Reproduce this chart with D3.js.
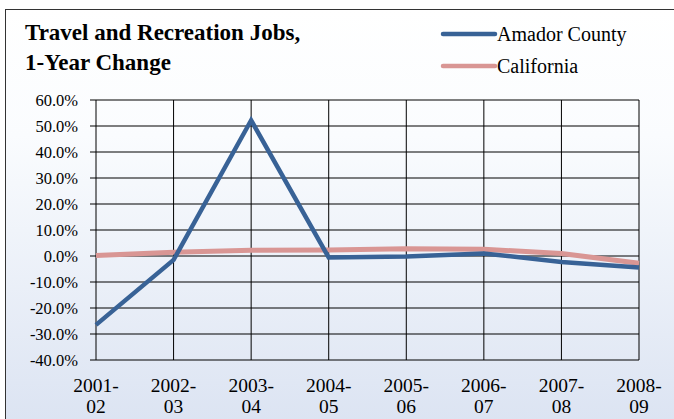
<!DOCTYPE html>
<html><head><meta charset="utf-8">
<script src="https://cdn.jsdelivr.net/npm/d3@7"></script>
</head>
<body style="margin:0">
<svg id="chart" width="674" height="419"></svg>
<script>
const categories = ["2001-02","2002-03","2003-04","2004-05","2005-06","2006-07","2007-08","2008-09"];
const amador = [-26.5, -1.5, 52.2, -0.6, -0.2, 1.0, -2.3, -4.4];
const california = [0.2, 1.4, 2.2, 2.3, 2.8, 2.6, 1.0, -2.8];
const yTicks = [60, 50, 40, 30, 20, 10, 0, -10, -20, -30, -40];
const seriesNames = ["Amador County", "California"];
const seriesColors = ["#386296", "#d99694"];
const titleLines = ["Travel and Recreation Jobs,", "1-Year Change"];

const FONT = "'Liberation Serif', Tinos, 'Times New Roman', serif";
function serif(sel){ return sel.attr("font-family", FONT).style("font-family", FONT, "important"); }

const svg = d3.select("#chart");
serif(svg);
const defs = svg.append("defs");
const grad = defs.append("linearGradient").attr("id","bg").attr("x1",0).attr("y1",0).attr("x2",0).attr("y2",1);
grad.append("stop").attr("offset","0%").attr("stop-color","#ffffff");
grad.append("stop").attr("offset","30%").attr("stop-color","#fafcfe");
grad.append("stop").attr("offset","100%").attr("stop-color","#dbe3f2");

svg.append("rect").attr("x",5.5).attr("y",9.5).attr("width",700).attr("height",420)
  .attr("fill","url(#bg)").attr("stroke","#333").attr("stroke-width",1);

const x = d3.scalePoint().domain(categories).range([96, 639]);
const y = d3.scaleLinear().domain([-40, 60]).range([360, 100]);

// title
const title = serif(svg.append("text").attr("x",25).attr("y",40).attr("font-size",23))
  .attr("font-weight","bold");
titleLines.forEach((t,i)=> serif(title.append("tspan").attr("x",25).attr("y",40+i*30)).text(t));

// legend
seriesNames.forEach((n,i)=>{
  const ly = 34 + i*32;
  svg.append("line").attr("x1",443).attr("x2",495).attr("y1",ly).attr("y2",ly)
    .attr("stroke",seriesColors[i]).attr("stroke-width",4.5).attr("stroke-linecap","round");
  serif(svg.append("text").attr("x",497).attr("y",ly+7).attr("font-size",20)).text(n);
});

// horizontal gridlines
svg.selectAll("line.h").data(yTicks).join("line").attr("class","h")
  .attr("x1",90).attr("x2",639).attr("y1",d=>y(d)).attr("y2",d=>y(d))
  .attr("stroke","#000").attr("stroke-width",1);
// vertical gridlines
svg.selectAll("line.v").data(categories).join("line").attr("class","v")
  .attr("x1",d=>x(d)).attr("x2",d=>x(d)).attr("y1",100).attr("y2",360)
  .attr("stroke","#000").attr("stroke-width",1);

// y labels
serif(svg.selectAll("text.yl").data(yTicks).join("text").attr("class","yl")
  .attr("x",78).attr("y",d=>y(d)+6).attr("text-anchor","end").attr("font-size",16.5))
  .text(d=>d.toFixed(1)+"%");

// x labels (two lines each)
categories.forEach(c=>{
  const parts = c.split("-");
  serif(svg.append("text").attr("x",x(c)).attr("y",392).attr("text-anchor","middle")
    .attr("font-size",19.5)).text(parts[0]+"-");
  serif(svg.append("text").attr("x",x(c)).attr("y",413).attr("text-anchor","middle")
    .attr("font-size",19.5)).text(parts[1]);
});

// lines
const line = d3.line().x((d,i)=>x(categories[i])).y(d=>y(d));
svg.append("path").datum(california).attr("d",line).attr("fill","none")
  .attr("stroke",seriesColors[1]).attr("stroke-width",5).attr("stroke-linejoin","round");
svg.append("path").datum(amador).attr("d",line).attr("fill","none")
  .attr("stroke",seriesColors[0]).attr("stroke-width",4.5).attr("stroke-linejoin","miter");
</script>
</body></html>
